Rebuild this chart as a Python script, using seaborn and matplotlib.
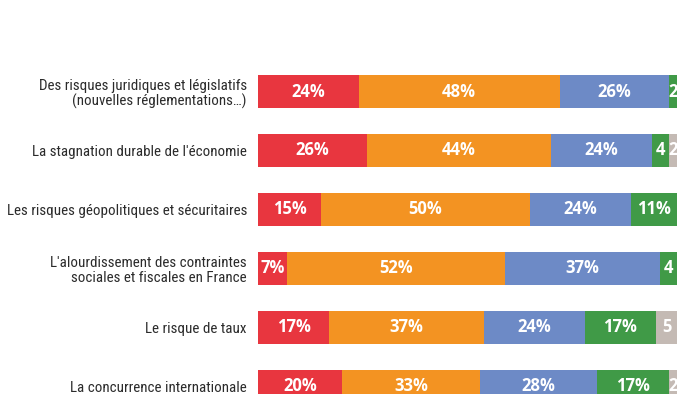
import numpy as np
import pandas as pd
import matplotlib
matplotlib.use("Agg")
import matplotlib.pyplot as plt
import seaborn as sns

categories = [
    "Des risques juridiques et législatifs\n(nouvelles réglementations…)",
    "La stagnation durable de l'économie",
    "Les risques géopolitiques et sécuritaires",
    "L'alourdissement des contraintes\nsociales et fiscales en France",
    "Le risque de taux",
    "La concurrence internationale",
]
series_names = ["s1", "s2", "s3", "s4", "s5"]
s1 = [24, 26, 15, 7, 17, 20]
s2 = [48, 44, 50, 52, 37, 33]
s3 = [26, 24, 24, 37, 24, 28]
s4 = [2, 4, 11, 4, 17, 17]
s5 = [0, 2, 0, 0, 5, 2]
colors = ["#E8363F", "#F39322", "#6D8AC6", "#409A47", "#C4BAB4"]

sns.set_theme(style="white")
plt.rcParams["font.family"] = ["Roboto Condensed", "Roboto", "DejaVu Sans"]

vals = np.array([s1, s2, s3, s4, s5], dtype=float)
cum = vals.cumsum(axis=0)

W, H = 700, 394
fig = plt.figure(figsize=(7, 3.94), dpi=100)
# axes from x=258 to 677 px, top at y=60 px, runs off the bottom of the image
ax = fig.add_axes([258 / W, 0, 419 / W, (H - 60) / H])

# stacked bars: draw cumulative totals, widest first
for i in range(len(series_names) - 1, -1, -1):
    df = pd.DataFrame({"cat": categories, "val": cum[i]})
    sns.barplot(data=df, x="val", y="cat", orient="h", color=colors[i],
                width=0.56, linewidth=0, saturation=1, ax=ax)

# value labels
for i in range(len(series_names)):
    for j, cat in enumerate(categories):
        v = vals[i, j]
        if v <= 0:
            continue
        txt = f"{v:.0f}%" if v > 5 else f"{v:.0f}"
        ax.text(cum[i, j] - v / 2, j, txt, ha="center", va="center",
                color="white", fontsize=12, fontweight="bold",
                family=["Open Sans", "DejaVu Sans"])

pitch = 58.9
top_row = 91.5
ax.set_xlim(0, 100)
ax.set_ylim((H - top_row) / pitch, -(top_row - 60) / pitch)
ax.set_xlabel("")
ax.set_ylabel("")
ax.set_xticks([])
ax.tick_params(axis="y", length=0, pad=8, labelsize=10.8, labelcolor="#2b2b2b")
for lab in ax.get_yticklabels():
    lab.set_linespacing(1.1)
sns.despine(ax=ax, left=True, bottom=True)

fig.savefig("out.png", dpi=100)
